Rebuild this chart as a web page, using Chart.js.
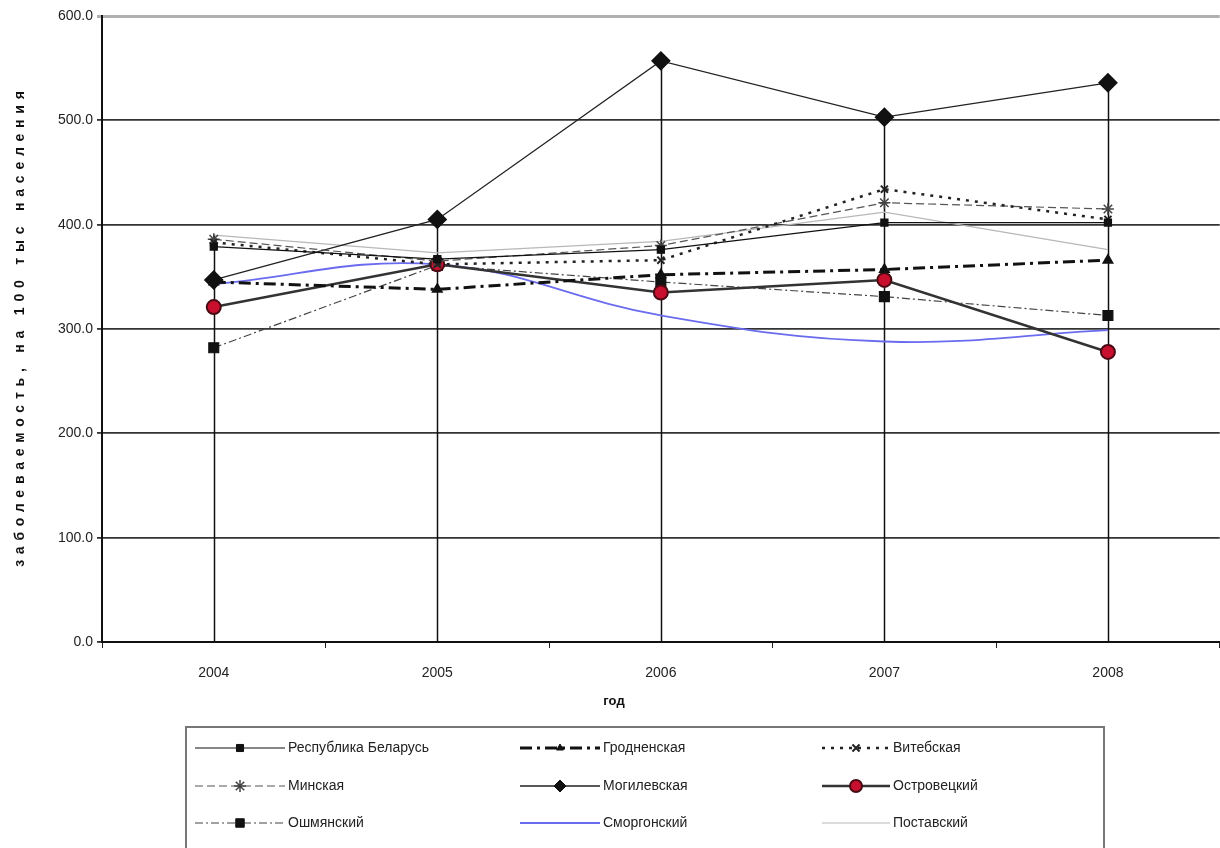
<!DOCTYPE html>
<html>
<head>
<meta charset="utf-8">
<script src="https://cdn.jsdelivr.net/npm/chart.js@4/dist/chart.umd.min.js"></script>
<style>
  html, body { margin: 0; padding: 0; background: #fff; overflow: hidden; }
  #wrap { position: relative; width: 1230px; height: 848px; }
</style>
</head>
<body>
<div id="wrap"><canvas id="chart"></canvas></div>
<script>
// Years on the x axis
const years = ['2004', '2005', '2006', '2007', '2008'];

// Incidence per 100 000 population
const respBelarus = [379, 367, 376, 402, 402];
const grodno      = [345, 338, 352, 357, 366];
const vitebsk     = [383, 362, 366, 434, 405];
const minsk       = [386, 365, 380, 421, 415];
const mogilev     = [347, 405, 557, 503, 536];
const ostrovets   = [321, 362, 335, 347, 278];
const oshmyany    = [282, 361, 345, 331, 313];
const smorgon     = [343, 362, 313, 288, 299];
const postavy     = [390, 373, 384, 412, 376];

const yMin = 0;
const yMax = 600;
const yStep = 100;

const FONT = "'Liberation Sans', Arial, sans-serif";

// Legend slots (3 columns x 3 rows)
const LEGEND = {
    box: { left: 186, top: 727, right: 1104 },
    sampleX: [195, 520, 822],
    sampleW: [90, 80, 68],
    rowsY: [748, 786, 823],
};

function series(label, data, style) {
    return Object.assign({
        label: label,
        data: data,
        fill: false,
        tension: 0,
        pointRadius: 0,
        pointHoverRadius: 0,
    }, style);
}

const datasets = [
    series('Республика Беларусь', respBelarus, {
        borderColor: '#111', borderWidth: 1.2,
        pointStyle: 'rect', pointRadius: 5, pointBackgroundColor: '#111', pointBorderColor: '#111',
    }),
    series('Гродненская', grodno, {
        borderColor: '#111', borderWidth: 3, borderDash: [12, 5, 3, 5],
        pointStyle: 'triangle', pointRadius: 4, pointBackgroundColor: '#111', pointBorderColor: '#111',
    }),
    series('Витебская', vitebsk, {
        borderColor: '#222', borderWidth: 2.5, borderDash: [3, 6],
        pointStyle: 'crossRot', pointRadius: 5, pointBorderWidth: 2, pointBorderColor: '#222',
    }),
    series('Минская', minsk, {
        borderColor: '#555', borderWidth: 1.2, borderDash: [8, 4],
        pointStyle: 'star', pointRadius: 6, pointBorderWidth: 1.5, pointBorderColor: '#444',
    }),
    series('Могилевская', mogilev, {
        borderColor: '#222', borderWidth: 1.3,
        pointStyle: 'rectRot', pointRadius: 9, pointBackgroundColor: '#111', pointBorderColor: '#111',
    }),
    series('Островецкий', ostrovets, {
        borderColor: '#333', borderWidth: 2.5,
        pointStyle: 'circle', pointRadius: 7, pointBackgroundColor: '#c8102e',
        pointBorderColor: '#4a0a14', pointBorderWidth: 2,
    }),
    series('Ошмянский', oshmyany, {
        borderColor: '#444', borderWidth: 1.2, borderDash: [8, 3, 2, 3],
        pointStyle: 'rect', pointRadius: 7, pointBackgroundColor: '#111', pointBorderColor: '#111',
    }),
    series('Сморгонский', smorgon, {
        borderColor: '#6b6bef', borderWidth: 1.8, tension: 0.4,
    }),
    series('Поставский', postavy, {
        borderColor: '#b8b8b8', borderWidth: 1.2,
    }),
];

// Excel-style drop lines: from the highest value of each year down to the axis
const dropLines = {
    id: 'dropLines',
    beforeDatasetsDraw(chart) {
        const { ctx, scales: { x, y } } = chart;
        ctx.save();
        ctx.strokeStyle = '#111';
        ctx.lineWidth = 1.5;
        years.forEach((yr, i) => {
            const top = Math.max(...chart.data.datasets.map(d => d.data[i]));
            const px = Math.round(x.getPixelForValue(i)) + 0.5;
            ctx.beginPath();
            ctx.moveTo(px, y.getPixelForValue(top));
            ctx.lineTo(px, y.getPixelForValue(yMin));
            ctx.stroke();
        });
        ctx.restore();
    }
};

// Axis titles and the boxed 3-column legend
const extras = {
    id: 'extras',
    afterDraw(chart) {
        const { ctx } = chart;
        ctx.save();

        // y title
        ctx.translate(20, 326);
        ctx.rotate(-Math.PI / 2);
        ctx.font = 'bold 14px ' + FONT;
        ctx.letterSpacing = '5.8px';
        ctx.fillStyle = '#111';
        ctx.textAlign = 'center';
        ctx.textBaseline = 'middle';
        ctx.fillText('заболеваемость, на 100 тыс населения', 0, 0);
        ctx.restore();

        // x title
        ctx.save();
        ctx.font = 'bold 13px ' + FONT;
        ctx.fillStyle = '#111';
        ctx.textAlign = 'center';
        ctx.textBaseline = 'middle';
        ctx.fillText('год', 614, 701);
        ctx.restore();

        // legend box
        ctx.save();
        ctx.strokeStyle = '#777';
        ctx.lineWidth = 2;
        const b = LEGEND.box;
        ctx.strokeRect(b.left, b.top, b.right - b.left, 140);

        chart.data.datasets.forEach((ds, i) => {
            const col = i % 3, row = Math.floor(i / 3);
            const x0 = LEGEND.sampleX[col];
            const w = LEGEND.sampleW[col];
            const yy = LEGEND.rowsY[row];
            ctx.save();
            ctx.strokeStyle = ds.borderColor;
            ctx.lineWidth = ds.borderWidth;
            ctx.setLineDash(ds.borderDash || []);
            ctx.beginPath();
            ctx.moveTo(x0, yy);
            ctx.lineTo(x0 + w, yy);
            ctx.stroke();
            ctx.setLineDash([]);
            if (ds.pointRadius) {
                ctx.fillStyle = ds.pointBackgroundColor || ds.borderColor;
                ctx.strokeStyle = ds.pointBorderColor || ds.borderColor;
                ctx.lineWidth = ds.pointBorderWidth || 1;
                Chart.helpers.drawPoint(ctx, {
                    pointStyle: ds.pointStyle,
                    radius: Math.min(ds.pointRadius, 6),
                    rotation: 0,
                    borderWidth: ds.pointBorderWidth || 1,
                }, x0 + w / 2, yy);
            }
            ctx.restore();

            ctx.font = '14px ' + FONT;
            ctx.fillStyle = '#222';
            ctx.textAlign = 'left';
            ctx.textBaseline = 'middle';
            ctx.fillText(ds.label, x0 + w + 3, yy);
        });
        ctx.restore();
    }
};

new Chart(document.getElementById('chart'), {
    type: 'line',
    data: { labels: years, datasets: datasets },
    plugins: [dropLines, extras],
    options: {
        responsive: true,
        maintainAspectRatio: false,
        animation: false,
        layout: { padding: { top: 16, left: 0, right: 0, bottom: 0 } },
        plugins: {
            legend: { display: false },
            tooltip: { enabled: false },
        },
        scales: {
            x: {
                offset: true,
                afterFit: s => { s.height = 206; },
                grid: {
                    offset: true,
                    drawOnChartArea: false,
                    tickLength: 6,
                    color: '#222',
                },
                border: { color: '#111', width: 2 },
                ticks: {
                    color: '#222',
                    padding: 17,
                    font: { size: 14, family: FONT },
                },
            },
            y: {
                min: yMin,
                max: yMax,
                afterFit: s => { s.width = 102; },
                grid: {
                    color: ctx => ctx.tick && ctx.tick.value === yMax ? '#b0b0b0' : '#333',
                    lineWidth: ctx => ctx.tick && ctx.tick.value === yMax ? 3 : 1.8,
                    tickLength: 5,
                },
                border: { color: '#111', width: 2 },
                ticks: {
                    stepSize: yStep,
                    color: '#222',
                    padding: 4,
                    font: { size: 14, family: FONT },
                    callback: v => v.toFixed(1),
                },
            },
        },
    },
});
</script>
</body>
</html>
